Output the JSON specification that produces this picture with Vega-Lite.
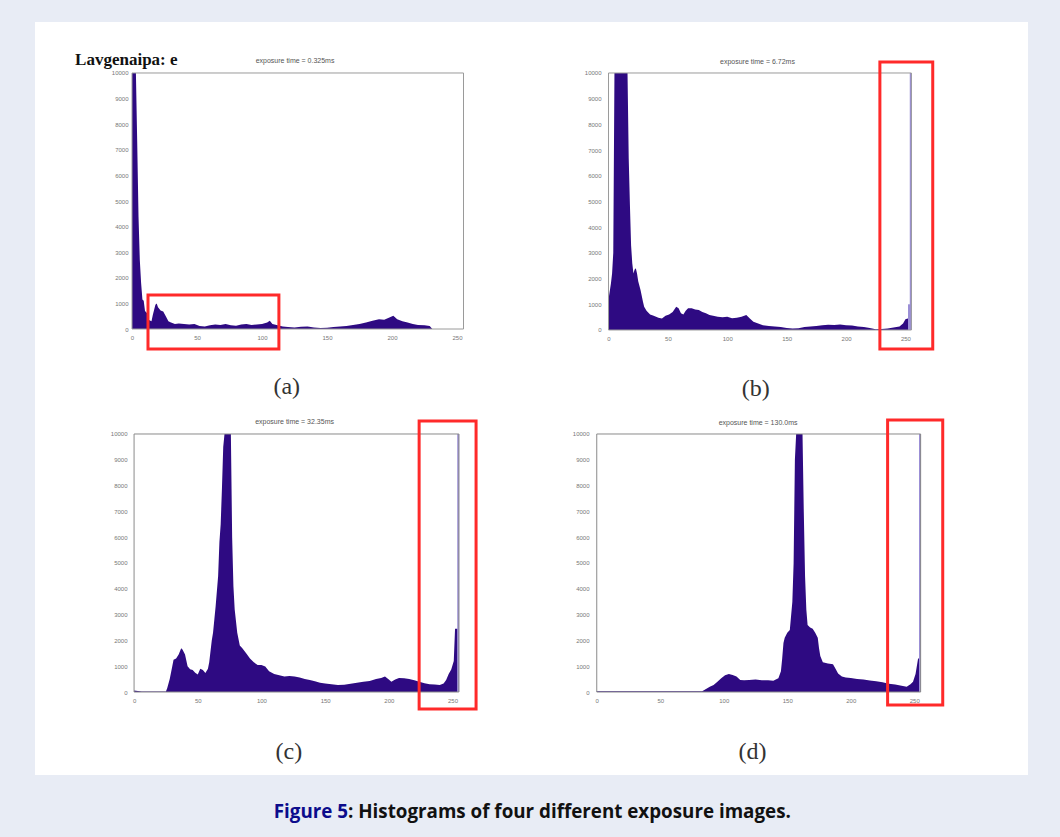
{
  "$schema": "https://vega.github.io/schema/vega-lite/v6.json",
  "background": "#e8ecf5",
  "padding": {"left": 35, "top": 22, "right": 32, "bottom": 0},
  "config": {"view": {"stroke": null}, "concat": {"spacing": 0}, "axis": {"labelOverlap": false, "labelSeparation": 0}, "axisY": {"labelOverlap": false}},
  "spacing": 0,
  "datasets": {
    "a": [
      {"gray": 0, "count": 10000}, {"gray": 3, "count": 10000}, {"gray": 4, "count": 7300}, {"gray": 5, "count": 4400},
      {"gray": 6, "count": 2700}, {"gray": 7, "count": 1800}, {"gray": 8, "count": 1150}, {"gray": 9, "count": 1100},
      {"gray": 10, "count": 700}, {"gray": 12, "count": 600}, {"gray": 13, "count": 350}, {"gray": 15, "count": 300},
      {"gray": 16, "count": 550}, {"gray": 18, "count": 950}, {"gray": 19, "count": 1000}, {"gray": 20, "count": 850},
      {"gray": 22, "count": 720}, {"gray": 24, "count": 680}, {"gray": 26, "count": 500}, {"gray": 28, "count": 300},
      {"gray": 30, "count": 250}, {"gray": 33, "count": 200}, {"gray": 36, "count": 220}, {"gray": 40, "count": 200},
      {"gray": 44, "count": 180}, {"gray": 48, "count": 200}, {"gray": 52, "count": 120}, {"gray": 56, "count": 100},
      {"gray": 60, "count": 150}, {"gray": 64, "count": 180}, {"gray": 68, "count": 160}, {"gray": 72, "count": 200},
      {"gray": 76, "count": 150}, {"gray": 80, "count": 130}, {"gray": 84, "count": 180}, {"gray": 88, "count": 200},
      {"gray": 92, "count": 160}, {"gray": 96, "count": 180}, {"gray": 100, "count": 200}, {"gray": 104, "count": 250},
      {"gray": 106, "count": 320}, {"gray": 108, "count": 200}, {"gray": 112, "count": 150}, {"gray": 116, "count": 100},
      {"gray": 120, "count": 80}, {"gray": 125, "count": 60}, {"gray": 130, "count": 90}, {"gray": 135, "count": 100},
      {"gray": 140, "count": 60}, {"gray": 145, "count": 40}, {"gray": 150, "count": 50}, {"gray": 155, "count": 80},
      {"gray": 160, "count": 100}, {"gray": 165, "count": 120}, {"gray": 170, "count": 160}, {"gray": 175, "count": 200},
      {"gray": 180, "count": 250}, {"gray": 185, "count": 320}, {"gray": 190, "count": 380}, {"gray": 194, "count": 360},
      {"gray": 198, "count": 450}, {"gray": 201, "count": 520}, {"gray": 204, "count": 380}, {"gray": 208, "count": 300},
      {"gray": 212, "count": 250}, {"gray": 216, "count": 200}, {"gray": 220, "count": 160}, {"gray": 225, "count": 150},
      {"gray": 229, "count": 120}, {"gray": 231, "count": 0}
    ],
    "b": [
      {"gray": 0, "count": 1200}, {"gray": 2, "count": 1800}, {"gray": 3, "count": 2200}, {"gray": 4, "count": 3000},
      {"gray": 5, "count": 10000}, {"gray": 16, "count": 10000}, {"gray": 17, "count": 6700}, {"gray": 18, "count": 4900},
      {"gray": 19, "count": 3300}, {"gray": 20, "count": 2600}, {"gray": 21, "count": 2200}, {"gray": 22, "count": 2350},
      {"gray": 23, "count": 2400}, {"gray": 24, "count": 2200}, {"gray": 25, "count": 1900}, {"gray": 27, "count": 1550},
      {"gray": 29, "count": 1100}, {"gray": 30, "count": 900}, {"gray": 32, "count": 750}, {"gray": 35, "count": 600},
      {"gray": 38, "count": 550}, {"gray": 42, "count": 480}, {"gray": 45, "count": 450}, {"gray": 48, "count": 550},
      {"gray": 51, "count": 600}, {"gray": 54, "count": 700}, {"gray": 57, "count": 900}, {"gray": 59, "count": 850},
      {"gray": 61, "count": 650}, {"gray": 63, "count": 600}, {"gray": 65, "count": 750}, {"gray": 67, "count": 850},
      {"gray": 70, "count": 850}, {"gray": 73, "count": 800}, {"gray": 76, "count": 780}, {"gray": 79, "count": 700},
      {"gray": 82, "count": 650}, {"gray": 85, "count": 580}, {"gray": 88, "count": 550}, {"gray": 92, "count": 520},
      {"gray": 96, "count": 500}, {"gray": 100, "count": 520}, {"gray": 104, "count": 460}, {"gray": 108, "count": 480},
      {"gray": 112, "count": 520}, {"gray": 116, "count": 580}, {"gray": 119, "count": 450}, {"gray": 122, "count": 320},
      {"gray": 126, "count": 250}, {"gray": 130, "count": 180}, {"gray": 135, "count": 160}, {"gray": 140, "count": 140},
      {"gray": 145, "count": 120}, {"gray": 150, "count": 80}, {"gray": 155, "count": 60}, {"gray": 160, "count": 70},
      {"gray": 165, "count": 120}, {"gray": 170, "count": 140}, {"gray": 175, "count": 160}, {"gray": 180, "count": 180},
      {"gray": 185, "count": 200}, {"gray": 190, "count": 190}, {"gray": 195, "count": 210}, {"gray": 200, "count": 180},
      {"gray": 205, "count": 170}, {"gray": 210, "count": 140}, {"gray": 215, "count": 120}, {"gray": 220, "count": 80},
      {"gray": 225, "count": 30}, {"gray": 230, "count": 40}, {"gray": 235, "count": 60}, {"gray": 240, "count": 100},
      {"gray": 245, "count": 140}, {"gray": 248, "count": 250}, {"gray": 250, "count": 420}, {"gray": 252, "count": 450},
      {"gray": 254, "count": 450}
    ],
    "c": [
      {"gray": 0, "count": 60}, {"gray": 3, "count": 40}, {"gray": 6, "count": 20}, {"gray": 10, "count": 15},
      {"gray": 15, "count": 15}, {"gray": 20, "count": 15}, {"gray": 25, "count": 20}, {"gray": 26, "count": 150},
      {"gray": 28, "count": 500}, {"gray": 30, "count": 1000}, {"gray": 31, "count": 1250}, {"gray": 33, "count": 1300},
      {"gray": 35, "count": 1450}, {"gray": 37, "count": 1700}, {"gray": 38, "count": 1650}, {"gray": 40, "count": 1450},
      {"gray": 42, "count": 1000}, {"gray": 44, "count": 880}, {"gray": 46, "count": 850}, {"gray": 48, "count": 750},
      {"gray": 50, "count": 680}, {"gray": 52, "count": 900}, {"gray": 54, "count": 850}, {"gray": 56, "count": 740},
      {"gray": 58, "count": 900}, {"gray": 59, "count": 1150}, {"gray": 61, "count": 2000}, {"gray": 62, "count": 2300},
      {"gray": 63, "count": 2800}, {"gray": 64, "count": 3300}, {"gray": 66, "count": 4500}, {"gray": 67, "count": 5800},
      {"gray": 68, "count": 6500}, {"gray": 69, "count": 7900}, {"gray": 70, "count": 9500}, {"gray": 71, "count": 10000},
      {"gray": 76, "count": 10000}, {"gray": 77, "count": 6000}, {"gray": 78, "count": 4100}, {"gray": 79, "count": 3200},
      {"gray": 81, "count": 2300}, {"gray": 83, "count": 1800}, {"gray": 85, "count": 1700}, {"gray": 88, "count": 1500},
      {"gray": 91, "count": 1300}, {"gray": 94, "count": 1150}, {"gray": 97, "count": 1050}, {"gray": 100, "count": 1050},
      {"gray": 103, "count": 990}, {"gray": 106, "count": 800}, {"gray": 110, "count": 700}, {"gray": 114, "count": 650},
      {"gray": 118, "count": 600}, {"gray": 122, "count": 620}, {"gray": 126, "count": 600}, {"gray": 130, "count": 560},
      {"gray": 134, "count": 500}, {"gray": 138, "count": 470}, {"gray": 142, "count": 420}, {"gray": 146, "count": 360},
      {"gray": 150, "count": 330}, {"gray": 155, "count": 300}, {"gray": 160, "count": 270}, {"gray": 165, "count": 280},
      {"gray": 170, "count": 320}, {"gray": 175, "count": 360}, {"gray": 180, "count": 400}, {"gray": 185, "count": 430},
      {"gray": 190, "count": 500}, {"gray": 194, "count": 540}, {"gray": 197, "count": 600}, {"gray": 200, "count": 480},
      {"gray": 202, "count": 400}, {"gray": 205, "count": 480}, {"gray": 208, "count": 540}, {"gray": 212, "count": 530},
      {"gray": 216, "count": 500}, {"gray": 220, "count": 460}, {"gray": 224, "count": 400}, {"gray": 228, "count": 340},
      {"gray": 232, "count": 300}, {"gray": 236, "count": 290}, {"gray": 240, "count": 270}, {"gray": 243, "count": 330},
      {"gray": 245, "count": 470}, {"gray": 247, "count": 700}, {"gray": 249, "count": 870}, {"gray": 251, "count": 1200},
      {"gray": 252, "count": 2450}, {"gray": 254, "count": 2450}
    ],
    "d": [
      {"gray": 0, "count": 30}, {"gray": 20, "count": 30}, {"gray": 40, "count": 25}, {"gray": 60, "count": 30},
      {"gray": 83, "count": 30}, {"gray": 86, "count": 120}, {"gray": 89, "count": 200}, {"gray": 92, "count": 270},
      {"gray": 95, "count": 400}, {"gray": 98, "count": 530}, {"gray": 101, "count": 650}, {"gray": 104, "count": 700},
      {"gray": 107, "count": 660}, {"gray": 110, "count": 600}, {"gray": 113, "count": 470}, {"gray": 116, "count": 460},
      {"gray": 120, "count": 470}, {"gray": 125, "count": 480}, {"gray": 130, "count": 460}, {"gray": 135, "count": 460},
      {"gray": 139, "count": 440}, {"gray": 143, "count": 530}, {"gray": 145, "count": 800}, {"gray": 146, "count": 1300},
      {"gray": 147, "count": 1900}, {"gray": 148, "count": 2100}, {"gray": 150, "count": 2300}, {"gray": 152, "count": 2400},
      {"gray": 154, "count": 3500}, {"gray": 155, "count": 5000}, {"gray": 156, "count": 9000}, {"gray": 157, "count": 10000},
      {"gray": 162, "count": 10000}, {"gray": 163, "count": 7000}, {"gray": 164, "count": 4500}, {"gray": 165, "count": 3200},
      {"gray": 166, "count": 2600}, {"gray": 168, "count": 2500}, {"gray": 170, "count": 2450}, {"gray": 172, "count": 2300},
      {"gray": 174, "count": 2100}, {"gray": 175, "count": 1700}, {"gray": 176, "count": 1400}, {"gray": 178, "count": 1150},
      {"gray": 182, "count": 1100}, {"gray": 186, "count": 1080}, {"gray": 188, "count": 900}, {"gray": 190, "count": 720},
      {"gray": 193, "count": 600}, {"gray": 196, "count": 560}, {"gray": 200, "count": 540}, {"gray": 205, "count": 500},
      {"gray": 210, "count": 480}, {"gray": 215, "count": 450}, {"gray": 220, "count": 420}, {"gray": 225, "count": 380},
      {"gray": 230, "count": 320}, {"gray": 235, "count": 290}, {"gray": 240, "count": 240}, {"gray": 244, "count": 200},
      {"gray": 247, "count": 300}, {"gray": 249, "count": 400}, {"gray": 251, "count": 700}, {"gray": 253, "count": 1300},
      {"gray": 254, "count": 1300}
    ],
    "spikes": [
      {"panel": "b", "gray": 253, "count": 1000}, {"panel": "b", "gray": 254.5, "count": 10000},
      {"panel": "c", "gray": 254.5, "count": 10000},
      {"panel": "d", "gray": 254.5, "count": 10000}
    ]
  },
  "vconcat": [
    {
      "spacing": 0,
      "hconcat": [
        {
          "width": 496, "height": 379,
          "view": {"fill": "white", "stroke": null},
          "layer": [
            {
              "data": {"name": "a"},
              "mark": {"type": "area", "color": "#2e0a82", "interpolate": "linear"},
              "encoding": {
                "x": {"field": "gray", "type": "quantitative",
                  "scale": {"domain": [-74.62, 306.92], "nice": false, "zero": false},
                  "axis": {"values": [0, 50, 100, 150, 200, 250], "title": null, "domain": false, "ticks": false, "grid": false, "labelFontSize": 6, "labelColor": "#777", "labelFont": "Liberation Sans", "labelPadding": 5, "labelFlush": false, "labelOverlap": false, "offset": -72}},
                "y": {"field": "count", "type": "quantitative", "stack": null,
                  "scale": {"domain": [-2812, 11992], "nice": false, "zero": false},
                  "axis": {"values": [0, 1000, 2000, 3000, 4000, 5000, 6000, 7000, 8000, 9000, 10000], "tickCount": 11, "format": "d", "title": null, "domain": false, "ticks": false, "grid": false, "labelFontSize": 6, "labelColor": "#777", "labelFont": "Liberation Sans", "labelPadding": 4, "labelOverlap": false, "offset": -97}}
              }
            },
            {
              "data": {"values": [{}]},
              "mark": {"type": "rect", "filled": false, "color": "#9a9a9a", "strokeWidth": 1},
              "encoding": {"x": {"datum": 0, "type": "quantitative"}, "x2": {"datum": 255}, "y": {"datum": 0, "type": "quantitative"}, "y2": {"datum": 10000}}
            },
            {
              "data": {"values": [{}]},
              "mark": {"type": "rect", "filled": false, "color": "#ff2a2a", "strokeWidth": 3},
              "encoding": {"x": {"datum": 12.3, "type": "quantitative"}, "x2": {"datum": 113}, "y": {"datum": -781, "type": "quantitative"}, "y2": {"datum": 1328}}
            },
            {
              "data": {"values": [{}]},
              "mark": {"type": "text", "text": "exposure time = 0.325ms", "fontSize": 7, "color": "#555", "font": "Liberation Sans"},
              "encoding": {"x": {"datum": 125.4, "type": "quantitative"}, "y": {"datum": 10469, "type": "quantitative"}}
            },
            {
              "data": {"values": [{}]},
              "mark": {"type": "text", "text": "Lavgenaipa: e", "fontSize": 17, "fontWeight": "bold", "color": "#111", "font": "Liberation Serif", "align": "left"},
              "encoding": {"x": {"datum": -43.8, "type": "quantitative"}, "y": {"datum": 10508, "type": "quantitative"}}
            },
            {
              "data": {"values": [{}]},
              "mark": {"type": "text", "text": "(a)", "fontSize": 24, "color": "#333", "font": "Liberation Serif"},
              "encoding": {"x": {"datum": 119, "type": "quantitative"}, "y": {"datum": -2266, "type": "quantitative"}}
            }
          ]
        },
        {
          "width": 497, "height": 379,
          "view": {"fill": "white", "stroke": null},
          "layer": [
            {
              "data": {"name": "b"},
              "mark": {"type": "area", "color": "#2e0a82", "interpolate": "linear"},
              "encoding": {
                "x": {"field": "gray", "type": "quantitative",
                  "scale": {"domain": [-61.06, 349.0], "nice": false, "zero": false},
                  "axis": {"values": [0, 50, 100, 150, 200, 250], "title": null, "domain": false, "ticks": false, "grid": false, "labelFontSize": 6, "labelColor": "#777", "labelFont": "Liberation Sans", "labelPadding": 5, "labelFlush": false, "labelOverlap": false, "offset": -71}},
                "y": {"field": "count", "type": "quantitative", "stack": null,
                  "scale": {"domain": [-2763, 11984], "nice": false, "zero": false},
                  "axis": {"values": [0, 1000, 2000, 3000, 4000, 5000, 6000, 7000, 8000, 9000, 10000], "tickCount": 11, "format": "d", "title": null, "domain": false, "ticks": false, "grid": false, "labelFontSize": 6, "labelColor": "#777", "labelFont": "Liberation Sans", "labelPadding": 4, "labelOverlap": false, "offset": -74}}
              }
            },
            {
              "data": {"name": "spikes"},
              "transform": [{"filter": "datum.panel === 'b'"}],
              "mark": {"type": "bar", "color": "#9b8fd6", "width": 2},
              "encoding": {"x": {"field": "gray", "type": "quantitative"}, "y": {"field": "count", "type": "quantitative", "stack": null}}
            },
            {
              "data": {"values": [{}]},
              "mark": {"type": "rect", "filled": false, "color": "#9a9a9a", "strokeWidth": 1},
              "encoding": {"x": {"datum": 0, "type": "quantitative"}, "x2": {"datum": 255}, "y": {"datum": 0, "type": "quantitative"}, "y2": {"datum": 10000}}
            },
            {
              "data": {"values": [{}]},
              "mark": {"type": "rect", "filled": false, "color": "#ff2a2a", "strokeWidth": 3},
              "encoding": {"x": {"datum": 228.5, "type": "quantitative"}, "x2": {"datum": 273}, "y": {"datum": -739, "type": "quantitative"}, "y2": {"datum": 10428}}
            },
            {
              "data": {"values": [{}]},
              "mark": {"type": "text", "text": "exposure time = 6.72ms", "fontSize": 7, "color": "#555", "font": "Liberation Sans"},
              "encoding": {"x": {"datum": 125.4, "type": "quantitative"}, "y": {"datum": 10428, "type": "quantitative"}}
            },
            {
              "data": {"values": [{}]},
              "mark": {"type": "text", "text": "(b)", "fontSize": 24, "color": "#333", "font": "Liberation Serif"},
              "encoding": {"x": {"datum": 124, "type": "quantitative"}, "y": {"datum": -2296, "type": "quantitative"}}
            }
          ]
        }
      ]
    },
    {
      "spacing": 0,
      "hconcat": [
        {
          "width": 496, "height": 374,
          "view": {"fill": "white", "stroke": null},
          "layer": [
            {
              "data": {"name": "c"},
              "mark": {"type": "area", "color": "#2e0a82", "interpolate": "linear"},
              "encoding": {
                "x": {"field": "gray", "type": "quantitative",
                  "scale": {"domain": [-73.85, 307.7], "nice": false, "zero": false},
                  "axis": {"values": [0, 50, 100, 150, 200, 250], "title": null, "domain": false, "ticks": false, "grid": false, "labelFontSize": 6, "labelColor": "#777", "labelFont": "Liberation Sans", "labelPadding": 5, "labelFlush": false, "labelOverlap": false, "offset": -83}},
                "y": {"field": "count", "type": "quantitative", "stack": null,
                  "scale": {"domain": [-3217, 11279], "nice": false, "zero": false},
                  "axis": {"values": [0, 1000, 2000, 3000, 4000, 5000, 6000, 7000, 8000, 9000, 10000], "tickCount": 11, "format": "d", "title": null, "domain": false, "ticks": false, "grid": false, "labelFontSize": 6, "labelColor": "#777", "labelFont": "Liberation Sans", "labelPadding": 4, "labelOverlap": false, "offset": -96}}
              }
            },
            {
              "data": {"name": "spikes"},
              "transform": [{"filter": "datum.panel === 'c'"}],
              "mark": {"type": "bar", "color": "#9b8fd6", "width": 2},
              "encoding": {"x": {"field": "gray", "type": "quantitative"}, "y": {"field": "count", "type": "quantitative", "stack": null}}
            },
            {
              "data": {"values": [{}]},
              "mark": {"type": "rect", "filled": false, "color": "#8a8a8a", "strokeWidth": 1},
              "encoding": {"x": {"datum": 0, "type": "quantitative"}, "x2": {"datum": 255}, "y": {"datum": 0, "type": "quantitative"}, "y2": {"datum": 10000}}
            },
            {
              "data": {"values": [{}]},
              "mark": {"type": "rect", "filled": false, "color": "#ff2a2a", "strokeWidth": 3},
              "encoding": {"x": {"datum": 223.8, "type": "quantitative"}, "x2": {"datum": 268.5}, "y": {"datum": -659, "type": "quantitative"}, "y2": {"datum": 10504}}
            },
            {
              "data": {"values": [{}]},
              "mark": {"type": "text", "text": "exposure time = 32.35ms", "fontSize": 7, "color": "#555", "font": "Liberation Sans"},
              "encoding": {"x": {"datum": 126, "type": "quantitative"}, "y": {"datum": 10465, "type": "quantitative"}}
            },
            {
              "data": {"values": [{}]},
              "mark": {"type": "text", "text": "(c)", "fontSize": 24, "color": "#333", "font": "Liberation Serif"},
              "encoding": {"x": {"datum": 121.5, "type": "quantitative"}, "y": {"datum": -2326, "type": "quantitative"}}
            }
          ]
        },
        {
          "width": 497, "height": 374,
          "view": {"fill": "white", "stroke": null},
          "layer": [
            {
              "data": {"name": "d"},
              "mark": {"type": "area", "color": "#2e0a82", "interpolate": "linear"},
              "encoding": {
                "x": {"field": "gray", "type": "quantitative",
                  "scale": {"domain": [-47.84, 335.6], "nice": false, "zero": false},
                  "axis": {"values": [0, 50, 100, 150, 200, 250], "title": null, "domain": false, "ticks": false, "grid": false, "labelFontSize": 6, "labelColor": "#777", "labelFont": "Liberation Sans", "labelPadding": 5, "labelFlush": false, "labelOverlap": false, "offset": -83}},
                "y": {"field": "count", "type": "quantitative", "stack": null,
                  "scale": {"domain": [-3217, 11279], "nice": false, "zero": false},
                  "axis": {"values": [0, 1000, 2000, 3000, 4000, 5000, 6000, 7000, 8000, 9000, 10000], "tickCount": 11, "format": "d", "title": null, "domain": false, "ticks": false, "grid": false, "labelFontSize": 6, "labelColor": "#777", "labelFont": "Liberation Sans", "labelPadding": 4, "labelOverlap": false, "offset": -62}}
              }
            },
            {
              "data": {"name": "spikes"},
              "transform": [{"filter": "datum.panel === 'd'"}],
              "mark": {"type": "bar", "color": "#9b8fd6", "width": 2},
              "encoding": {"x": {"field": "gray", "type": "quantitative"}, "y": {"field": "count", "type": "quantitative", "stack": null}}
            },
            {
              "data": {"values": [{}]},
              "mark": {"type": "rect", "filled": false, "color": "#8a8a8a", "strokeWidth": 1},
              "encoding": {"x": {"datum": 0, "type": "quantitative"}, "x2": {"datum": 255}, "y": {"datum": 0, "type": "quantitative"}, "y2": {"datum": 10000}}
            },
            {
              "data": {"values": [{}]},
              "mark": {"type": "rect", "filled": false, "color": "#ff2a2a", "strokeWidth": 3},
              "encoding": {"x": {"datum": 229, "type": "quantitative"}, "x2": {"datum": 272.4}, "y": {"datum": -504, "type": "quantitative"}, "y2": {"datum": 10543}}
            },
            {
              "data": {"values": [{}]},
              "mark": {"type": "text", "text": "exposure time = 130.0ms", "fontSize": 7, "color": "#555", "font": "Liberation Sans"},
              "encoding": {"x": {"datum": 127, "type": "quantitative"}, "y": {"datum": 10426, "type": "quantitative"}}
            },
            {
              "data": {"values": [{}]},
              "mark": {"type": "text", "text": "(d)", "fontSize": 24, "color": "#333", "font": "Liberation Serif"},
              "encoding": {"x": {"datum": 122.7, "type": "quantitative"}, "y": {"datum": -2326, "type": "quantitative"}}
            }
          ]
        }
      ]
    },
    {
      "width": 993, "height": 62,
      "data": {"values": [{}]},
      "layer": [
        {
          "mark": {"type": "text", "text": "Figure 5", "align": "right", "fontSize": 18.8, "fontWeight": "bold", "font": "Open Sans", "color": "#0c0c8c"},
          "encoding": {
            "x": {"datum": 0.3152, "type": "quantitative", "scale": {"domain": [0, 1], "nice": false, "zero": false}, "axis": null},
            "y": {"datum": 0.403, "type": "quantitative", "scale": {"domain": [0, 1], "nice": false, "zero": false}, "axis": null}
          }
        },
        {
          "mark": {"type": "text", "text": ": Histograms of four different exposure images.", "align": "left", "fontSize": 18.8, "fontWeight": "bold", "font": "Open Sans", "color": "#111"},
          "encoding": {
            "x": {"datum": 0.3152, "type": "quantitative"},
            "y": {"datum": 0.403, "type": "quantitative"}
          }
        }
      ]
    }
  ]
}
